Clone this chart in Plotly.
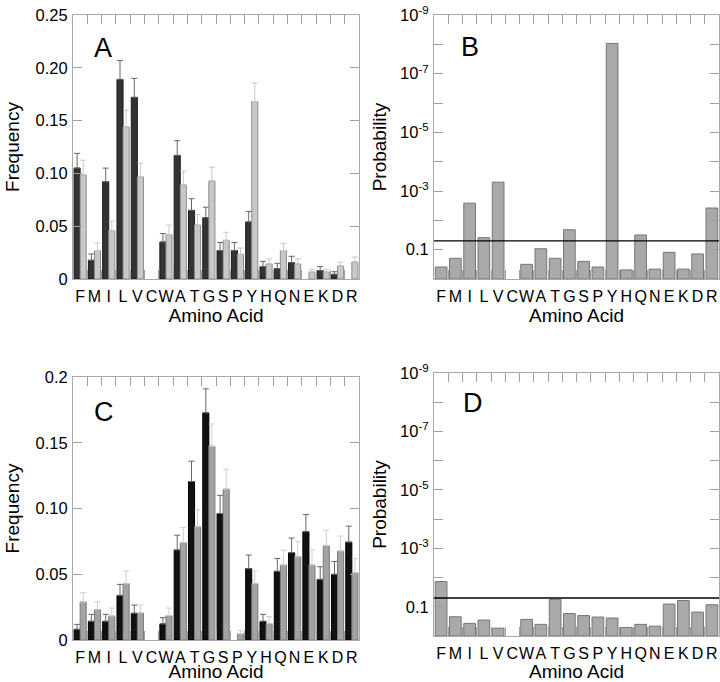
import math
import plotly.graph_objects as go

amino_acids = ["F", "M", "I", "L", "V", "C", "W", "A", "T", "G",
               "S", "P", "Y", "H", "Q", "N", "E", "K", "D", "R"]

# Panel A: frequencies (dark series, light series) and upper error-bar lengths
freq_a_dark = [0.105, 0.0177, 0.092, 0.189, 0.172, None, 0.035, 0.117, 0.065, 0.058,
               0.027, 0.027, 0.054, 0.0117, 0.0098, 0.0155, None, 0.0079, 0.0044, None]
freq_a_dark_err = [0.014, 0.006, 0.013, 0.018, 0.018, None, 0.008, 0.014, 0.011, 0.010,
                   0.0075, 0.0075, 0.010, 0.005, 0.005, 0.006, None, 0.0038, 0.0025, None]
freq_a_light = [0.0985, 0.027, 0.0458, 0.144, 0.0966, None, 0.042, 0.089, 0.051, 0.0928,
                0.0366, 0.0234, 0.168, 0.0142, 0.027, 0.0142, 0.0066, 0.0066, 0.0123, 0.016]
freq_a_light_err = [0.014, 0.007, 0.009, 0.016, 0.013, None, 0.009, 0.013, 0.010, 0.013,
                    0.0076, 0.006, 0.0176, 0.0048, 0.0068, 0.005, 0.0026, 0.0026, 0.0037, 0.0048]

# Panel B: probabilities
prob_b = [0.39, 0.197, 0.0026, 0.039, 0.0005, None, 0.316, 0.093, 0.197, 0.021,
          0.25, 0.39, 9.3e-9, 0.49, 0.0316, 0.46, 0.123, 0.46, 0.14, 0.0038]

# Panel C: frequencies
freq_c_dark = [0.0081, 0.0142, 0.0142, 0.0339, 0.0203, None, 0.0122, 0.0684, 0.1205, 0.1727,
               0.0962, None, 0.0542, 0.0142, 0.0522, 0.0663, 0.0823, 0.0461, 0.0499, 0.0744]
freq_c_dark_err = [0.0038, 0.0053, 0.0053, 0.0084, 0.0063, None, 0.0048, 0.0113, 0.0155, 0.0183,
                   0.0138, None, 0.0104, 0.0053, 0.0098, 0.0112, 0.0131, 0.0096, 0.0098, 0.0122]
freq_c_light = [0.0289, 0.023, 0.0182, 0.0428, 0.0205, None, 0.0185, 0.0739, 0.086, 0.1473,
                0.1147, 0.0046, 0.0428, 0.0124, 0.057, 0.0633, 0.057, 0.0716, 0.0676, 0.0511]
freq_c_light_err = [0.0071, 0.006, 0.0061, 0.0096, 0.0061, None, 0.0058, 0.0117, 0.013, 0.017,
                    0.0152, 0.0025, 0.0096, 0.0053, 0.0114, 0.0117, 0.0114, 0.0119, 0.0114, 0.0107]

# Panel D: probabilities
prob_d = [0.0137, 0.22, 0.37, 0.285, 0.54, None, 0.27, 0.40, 0.056, 0.17,
          0.20, 0.225, 0.243, 0.51, 0.40, 0.46, 0.081, 0.061, 0.152, 0.085]

threshold = 0.05

freq_a_ticks = [0, 0.05, 0.10, 0.15, 0.20, 0.25]
freq_a_ticktext = ["0", "0.05", "0.10", "0.15", "0.20", "0.25"]
freq_c_ticks = [0, 0.05, 0.10, 0.15, 0.20]
freq_c_ticktext = ["0", "0.05", "0.10", "0.15", "0.2"]
prob_ticks = [1e-9, 1e-8, 1e-7, 1e-6, 1e-5, 1e-4, 1e-3, 1e-2, 1e-1]
prob_ticktext = ["10<sup>-9</sup>", "", "10<sup>-7</sup>", "", "10<sup>-5</sup>", "",
                 "10<sup>-3</sup>", "", "0.1"]

FONT = "Liberation Sans, Arial, sans-serif"
W, H = 720, 682

fig = go.Figure()


def freq_pair(dark, dark_err, light, light_err, ax, dark_col, dark_line, dark_ecol,
              light_col, light_line, light_ecol):
    for vals, errs, col, lcol, ecol in ((dark, dark_err, dark_col, dark_line, dark_ecol),
                                         (light, light_err, light_col, light_line, light_ecol)):
        fig.add_trace(go.Bar(
            x=amino_acids, y=vals, xaxis="x" + ax, yaxis="y" + ax,
            marker=dict(color=col, line=dict(color=lcol, width=1)),
            error_y=dict(type="data", symmetric=False, array=errs,
                         arrayminus=[0] * len(errs), color=ecol, thickness=1, width=3),
            showlegend=False))


def prob_bars(probs, ax):
    base = [p if p is not None else None for p in probs]
    height = [(1 - p) if p is not None else None for p in probs]
    fig.add_trace(go.Bar(
        x=amino_acids, y=height, base=base, xaxis="x" + ax, yaxis="y" + ax,
        width=0.82,
        marker=dict(color="#a9a9a9", line=dict(color="#767676", width=1)),
        showlegend=False))


freq_pair(freq_a_dark, freq_a_dark_err, freq_a_light, freq_a_light_err, "",
          "#333333", "#1a1a1a", "#666666", "#c8c8c8", "#8c8c8c", "#c8c8c8")
prob_bars(prob_b, "2")
freq_pair(freq_c_dark, freq_c_dark_err, freq_c_light, freq_c_light_err, "3",
          "#111111", "#000000", "#666666", "#a3a3a3", "#7a7a7a", "#cfcfcf")
prob_bars(prob_d, "4")

# pixel boxes of panels: (left, right, top, bottom)
boxes = {
    "": (73, 359, 15, 279),
    "2": (434, 719, 15, 279),
    "3": (73, 359, 377, 640),
    "4": (434, 719, 373, 636),
}

AX_LINE = "#a8a8a8"
TICK = "#a0a0a0"
layout = dict(
    template="none",
    width=W, height=H, margin=dict(l=0, r=0, t=0, b=0, pad=0, autoexpand=False),
    paper_bgcolor="white", plot_bgcolor="white",
    barmode="group", bargap=0.15, bargroupgap=0.0,
    font=dict(family=FONT, color="black"),
    showlegend=False,
)

for ax, (l, r, t, b) in boxes.items():
    xd = [l / W, r / W]
    yd = [1 - b / H, 1 - t / H]
    key = ax
    lower = key in ("3", "4")
    layout["xaxis" + key] = dict(
        domain=xd, anchor="y" + key, type="category", automargin=False,
        categoryorder="array", categoryarray=amino_acids,
        range=[-0.5, len(amino_acids) - 0.5],
        tickmode="array", tickvals=amino_acids, ticktext=amino_acids, tickangle=0,
        tickson="boundaries", ticks="inside", ticklen=9, tickcolor=TICK, tickwidth=1,
        showline=True, linecolor=AX_LINE, linewidth=1, mirror="ticks",
        showgrid=False, zeroline=False,
        tickfont=dict(size=16, family=FONT), ticklabelstandoff=3,
        title=dict(text="Amino Acid", font=dict(size=19, family=FONT),
                   standoff=0 if lower else 2),
    )
    ydict = dict(
        domain=yd, anchor="x" + key, automargin=False,
        ticks="inside", ticklen=9, tickcolor=TICK, tickwidth=1,
        showline=True, linecolor=AX_LINE, linewidth=1, mirror="ticks",
        showgrid=False, zeroline=False,
        tickfont=dict(size=16.5, family=FONT),
        ticklabelstandoff=1,
    )
    if key in ("", "3"):
        ydict.update(range=[0, 0.25] if key == "" else [0, 0.2], tickmode="array",
                     tickvals=freq_a_ticks if key == "" else freq_c_ticks,
                     ticktext=freq_a_ticktext if key == "" else freq_c_ticktext,
                     title=dict(text="Frequency", font=dict(size=19, family=FONT), standoff=10))
    else:
        ydict.update(type="log", range=[0, -9], tickmode="array",
                     tickvals=prob_ticks, ticktext=prob_ticktext,
                     title=dict(text="Probability", font=dict(size=19, family=FONT), standoff=8))
    layout["yaxis" + key] = ydict

fig.update_layout(**layout)

# threshold lines (p = 0.05) across the probability panels
for ax in ("2", "4"):
    frac = -math.log10(threshold) / 9.0
    fig.add_shape(type="line", xref="x%s domain" % ax, yref="y%s domain" % ax,
                  x0=0, x1=1, y0=frac, y1=frac, line=dict(color="black", width=1.3))

# panel letters (pixel positions)
letters = {"": ("A", 103, 48), "2": ("B", 470, 47), "3": ("C", 104, 412), "4": ("D", 473, 403)}
for ax, (txt, px, py) in letters.items():
    fig.add_annotation(text=txt, xref="paper", yref="paper", x=px / W, y=1 - py / H,
                       xanchor="center", yanchor="middle", showarrow=False,
                       font=dict(size=27, family=FONT, color="black"))

# remove the browser's default 8px body margin so the figure fills the window exactly,
# and hide the mode bar so it never covers the top of the plots
fig.write_html("out.html", config={"displayModeBar": False},
               post_script="document.body.style.margin = '0px';")
